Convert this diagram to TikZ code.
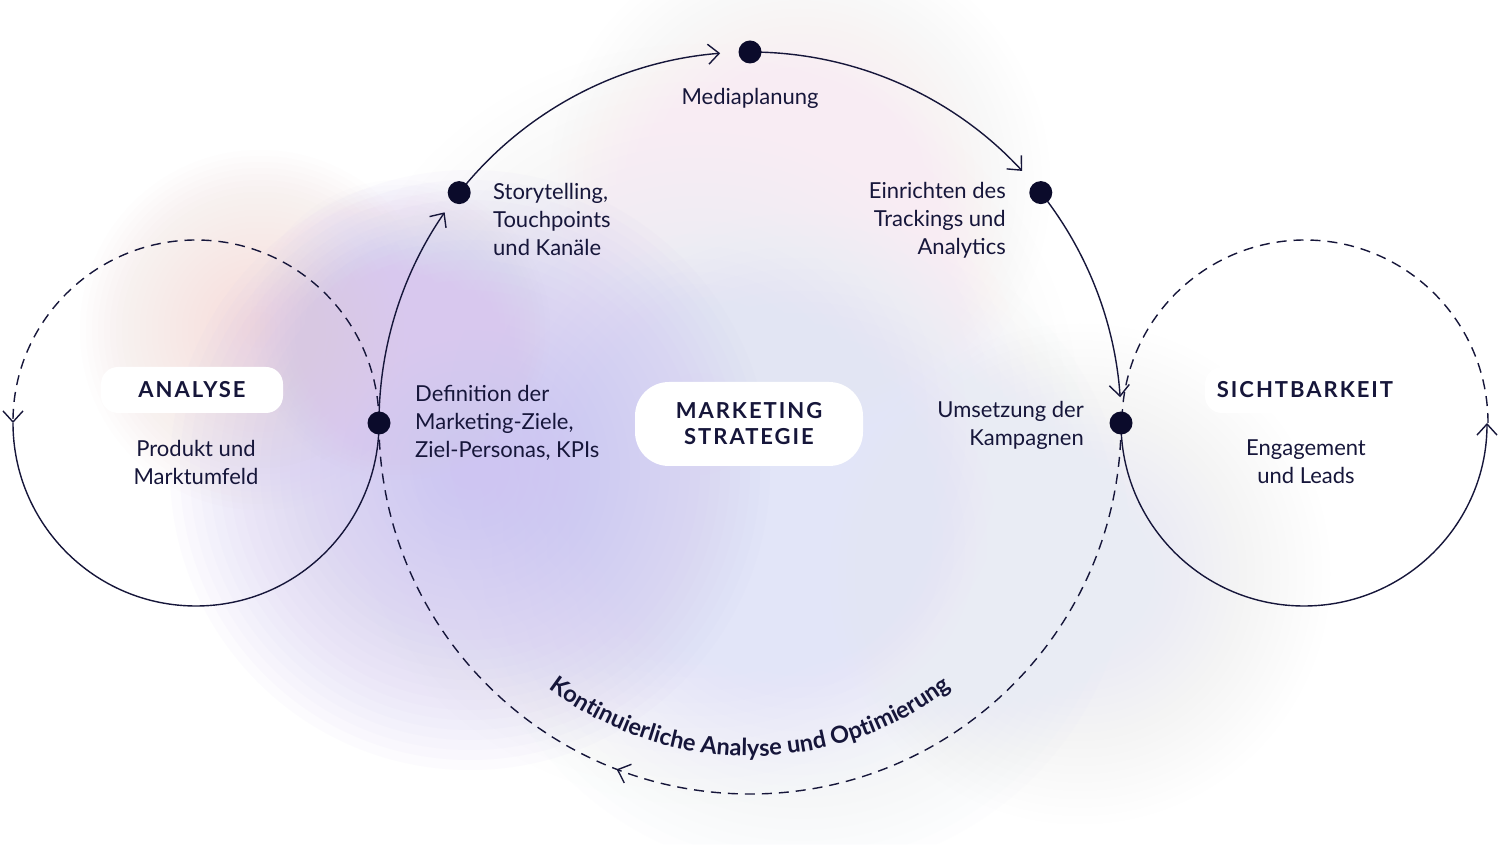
\documentclass[tikz,border=0pt]{standalone}
\usepackage{fontspec}
\setmainfont{Lato}
\newfontfamily\capsfont[LetterSpace=9]{Lato}
\usetikzlibrary{arrows.meta,decorations.text,decorations.markings}
\definecolor{ink}{HTML}{16163A}
\definecolor{dotc}{HTML}{0B0B2B}
\definecolor{lav}{HTML}{CEC5F2}
\definecolor{lavb}{HTML}{D8C8EE}
\definecolor{peach}{HTML}{F7DCD8}
\definecolor{bluel}{HTML}{E2E5F8}
\definecolor{greyb}{HTML}{E9ECF4}
\definecolor{pinkt}{HTML}{F8ECF3}
\definecolor{lavc}{HTML}{E8E3F8}
\newcommand\glow[4]{\foreach \k in {1,...,30}{\fill[#1, fill opacity=#4] (#2) circle ({#3*\k/30});}}
\pgfdeclarelayer{bg}
\pgfsetlayers{bg,main}
\begin{document}
\begin{tikzpicture}[x=1pt,y=1pt,
  dot/.style={circle, fill=dotc, inner sep=0pt, minimum size=23pt},
  conn/.style={draw=ink, line width=1.4pt},
  dashline/.style={draw=ink, line width=1.4pt, dash pattern=on 10pt off 7pt},
  tip/.style={-{Straight Barb[length=11pt,width=20pt,line width=1.4pt]}},
  lbl/.style={text=ink, inner sep=0pt, font=\fontsize{22}{28}\selectfont},
  box/.style={fill=white, inner sep=0pt, rounded corners=17pt, text=ink,
              font=\capsfont\bfseries\fontsize{22}{26}\selectfont}
]
\useasboundingbox (0,0) rectangle (1500,844);

% nodes
\node[dot] (dL) at (379,421) {};
\node[dot] (dR) at (1121,421) {};
\node[dot] (dT) at (750,792) {};
\node[dot] (dS) at (459.2,651.4) {};
\node[dot] (dTr) at (1040.8,651.4) {};
\coordinate (lW) at (13,421);
\coordinate (rE) at (1488,421);

\begin{pgfonlayer}{bg}
\fill[white] (0,0) rectangle (1500,844);
% soft background glows
\glow{lavc}{700,420}{380}{0.03}
\glow{bluel}{800,300}{330}{0.04}
\glow{greyb}{1080,270}{250}{0.045}
\glow{pinkt}{800,660}{250}{0.035}
\glow{peach}{260,514}{180}{0.045}
\glow{lav}{470,374}{300}{0.06}
\glow{lavb}{400,514}{150}{0.035}

% big circle, solid upper path with arrows
\draw[conn, tip] (dL.center) arc[start angle=180, end angle=145.4, radius=371];
\draw[conn, tip] (dS.center) arc[start angle=141.6, end angle=94.6, radius=371];
\draw[conn, tip] (dT.center) arc[start angle=90, end angle=42.8, radius=371];
\draw[conn, tip] (dTr.center) arc[start angle=38.4, end angle=4, radius=371];
% big circle, dashed lower path
\draw[dashline, postaction={decorate, decoration={markings,
   mark=at position 0.617 with {\arrow[solid]{Straight Barb[length=11pt,width=20pt,line width=1.4pt]}}}}]
   (dR.center) arc[start angle=360, end angle=180, radius=371];
% left circle
\draw[dashline, tip] (dL.center) arc[start angle=0, end angle=180, radius=183];
\draw[conn] (lW) arc[start angle=180, end angle=360, radius=183];
% right circle
\draw[conn, tip] (dR.center) arc[start angle=180, end angle=360, radius=183];
\draw[dashline] (rE) arc[start angle=0, end angle=180, radius=183];
\end{pgfonlayer}

% boxes
\node[box, minimum width=182pt, minimum height=46pt] (analyse) at (192,454) {ANALYSE};
\node[box, minimum width=228pt, minimum height=84pt, rounded corners=34pt, align=center] (strat) at (749,420) {MARKETING\\STRATEGIE};
\node[box, minimum width=200pt, minimum height=46pt] (sicht) at (1305,454) {SICHTBARKEIT};

% labels
\node[lbl, anchor=base] (media) at (750,739) {Mediaplanung};
\node[lbl, anchor=west, align=left] (story) at (493,625) {Storytelling,\\Touchpoints\\und Kanäle};
\node[lbl, anchor=east, align=right] (track) at (1006,624) {Einrichten des\\Trackings und\\Analytics};
\node[lbl, anchor=west, align=left] (defin) at (415,421) {Definition der\\Marketing-Ziele,\\Ziel-Personas, KPIs};
\node[lbl, anchor=east, align=right] (umset) at (1084,419) {Umsetzung der\\Kampagnen};
\node[lbl, align=center] (prod) at (196,382) {Produkt und\\Marktumfeld};
\node[lbl, align=center] (eng) at (1306,382) {Engagement\\und Leads};

% curved label
\path[decorate, decoration={text along path, text align=center, text color=ink,
   text={|\bfseries\fontsize{23.5}{28}\selectfont|Kontinuierliche Analyse und Optimierung}}]
   (437.1,307.1) arc[start angle=200, end angle=340, radius=333];
\end{tikzpicture}
\end{document}
